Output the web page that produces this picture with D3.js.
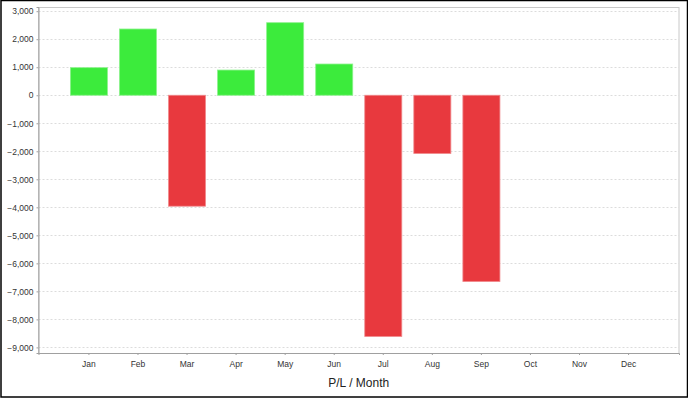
<!DOCTYPE html>
<html>
<head>
<meta charset="utf-8">
<script src="https://cdn.jsdelivr.net/npm/d3@7"></script>
<style>
  body { margin: 0; background: #fff; }
  svg { display: block; font-family: 'Liberation Sans', Arial, sans-serif; }
</style>
</head>
<body>
<svg width="688" height="398"></svg>
<script>
// monthly profit / loss
var months = ['Jan', 'Feb', 'Mar', 'Apr', 'May', 'Jun', 'Jul', 'Aug', 'Sep', 'Oct', 'Nov', 'Dec']
var pl = [985, 2365, -3960, 900, 2590, 1115, -8610, -2080, -6650, null, null, null]
var yTicks = [3000, 2000, 1000, 0, -1000, -2000, -3000, -4000, -5000, -6000, -7000, -8000, -9000]
var title = 'P/L / Month'

var svg = d3.select('svg'),
  margin = {top: 7, right: 9, bottom: 45, left: 38.5},
  W = +svg.attr('width'),
  H = +svg.attr('height')

var x = d3.scaleBand()
    .domain(months)
    .range([margin.left, W - margin.right])
    .paddingInner(0.245)
    .paddingOuter(0.65)

var y = d3.scaleLinear()
    .domain([-9200, 3150])
    .range([H - margin.bottom, margin.top])

// outer frame
svg.append('rect')
    .attr('x', 1).attr('y', 0.5)
    .attr('width', W - 1.5).attr('height', H - 1.5)
    .attr('fill', '#fff')
    .attr('stroke', '#000')
    .attr('stroke-width', 1.5)

// plot frame
svg.append('rect')
    .attr('x', margin.left).attr('y', margin.top + 0.5)
    .attr('width', W - margin.right - margin.left)
    .attr('height', y.range()[0] - margin.top)
    .attr('fill', '#fff')
    .attr('stroke', '#c8c8c8')

// grid
svg.append('g')
    .selectAll('line')
    .data(yTicks)
    .join('line')
    .attr('x1', margin.left)
    .attr('x2', W - margin.right)
    .attr('y1', d => Math.round(y(d)) + 0.5)
    .attr('y2', d => Math.round(y(d)) + 0.5)
    .attr('stroke', '#dcdcdc')
    .attr('stroke-dasharray', '2,2')

// bars
svg.append('g')
    .selectAll('rect')
    .data(months.map((m, i) => ({month: m, value: pl[i]})).filter(d => d.value != null))
    .join('rect')
    .attr('x', d => x(d.month))
    .attr('width', x.bandwidth())
    .attr('y', d => y(Math.max(0, d.value)))
    .attr('height', d => Math.abs(y(d.value) - y(0)))
    .attr('fill', d => d.value >= 0 ? '#3ceb3c' : '#e8393e')
    .attr('stroke', d => d.value >= 0 ? '#8ef28e' : '#f08a8d')
    .attr('stroke-width', 0.8)

var yAxis = d3.axisLeft(y)
    .tickValues(yTicks)
    .tickFormat(d3.format(','))
    .tickSize(2)
    .tickPadding(3)

var xAxis = d3.axisBottom(x)
    .tickSize(2)
    .tickPadding(6)

svg.append('g')
    .attr('transform', 'translate(' + margin.left + ',0)')
    .call(yAxis)

svg.append('g')
    .attr('transform', 'translate(0,' + y.range()[0] + ')')
    .call(xAxis)

svg.selectAll('.domain').attr('stroke', '#a0a0a0')
svg.selectAll('.tick line').attr('stroke', '#a0a0a0')
svg.selectAll('.tick text')
    .attr('fill', '#333')
    .attr('font-size', 8.5)
    .attr('font-family', "'Liberation Sans', Arial, sans-serif")

svg.append('text')
    .attr('x', (margin.left + W - margin.right) / 2)
    .attr('y', 387)
    .attr('text-anchor', 'middle')
    .attr('font-size', 12)
    .attr('fill', '#222')
    .text(title)
</script>
</body>
</html>
